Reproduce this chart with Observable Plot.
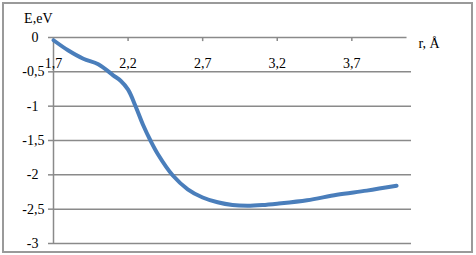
<!DOCTYPE html>
<html>
<head>
<meta charset="utf-8">
<script src="https://cdn.jsdelivr.net/npm/d3@7"></script>
<script src="https://cdn.jsdelivr.net/npm/@observablehq/plot@0.6"></script>
<style>
  html, body { margin: 0; padding: 0; background: #fff; font-family: "Liberation Serif", serif; }
  #wrap { position: relative; width: 476px; height: 255px; overflow: hidden; font-family: "Liberation Serif", serif; }
  #border { position: absolute; left: 2px; top: 2px; width: 471px; height: 251px; box-sizing: border-box; border: 2px solid #9a9a9a; pointer-events: none; }
</style>
</head>
<body>
<div id="wrap"><div id="border"></div></div>
<script>
const rValues = [1.7, 1.8, 1.9, 2.0, 2.1, 2.15, 2.2, 2.25, 2.3, 2.35, 2.4, 2.5, 2.6, 2.7, 2.8, 2.9, 3.0, 3.1, 3.2, 3.4, 3.6, 3.8, 4.0];
const eValues = [-0.04, -0.19, -0.31, -0.39, -0.55, -0.63, -0.76, -1.0, -1.27, -1.50, -1.70, -2.01, -2.21, -2.33, -2.40, -2.44, -2.45, -2.44, -2.42, -2.37, -2.29, -2.23, -2.16];
const xTicks = [1.7, 2.2, 2.7, 3.2, 3.7];
const yTicksInt = [0, -1, -2, -3];
const yTicksHalf = [-0.5, -1.5, -2.5];
const yTicks = [0, -0.5, -1, -1.5, -2, -2.5, -3];
const xLabel = "r, Å";
const yLabel = "E,eV";

const data = rValues.map((r, i) => ({r, e: eValues[i]}));
const fmt = d => String(d).replace(".", ",");
const grid = "#8a8a8a";
const serif = "Liberation Serif";

const chart = Plot.plot({
  width: 476,
  height: 255,
  marginLeft: 53,
  marginRight: 65,
  marginTop: 37,
  marginBottom: 12,
  style: {fontFamily: "Liberation Serif", fontSize: "14px", color: "#000", background: "transparent"},
  x: {domain: [1.7, 4.1], axis: null},
  y: {domain: [-3, 0], axis: null},
  marks: [
    Plot.ruleY(yTicks.filter(d => d !== 0), {y: d => d, stroke: grid, strokeWidth: 1.5}),
    Plot.axisY({ticks: yTicks, tickSize: 5, tickFormat: () => "", label: null, stroke: grid, strokeWidth: 1.5, strokeOpacity: 1}),
    Plot.ruleX([1.7], {x: d => d, y1: -3, y2: 0, stroke: grid, strokeWidth: 1.5}),
    Plot.ruleY([0], {y: d => d, x1: 1.7, x2: 4.07, stroke: grid, strokeWidth: 1.5}),
    Plot.ruleX(xTicks.slice(1), {x: d => d, y1: 0, y2: -0.06, stroke: grid, strokeWidth: 1.5}),
    Plot.text(xTicks, {x: d => d, y: 0, dy: 26, text: fmt, fill: "#000", fontFamily: serif, fontSize: 14}),
    Plot.text(yTicksInt, {x: 1.7, y: d => d, dx: -15, textAnchor: "end", text: fmt, fill: "#000", fontFamily: serif, fontSize: 14}),
    Plot.text(yTicksHalf, {x: 1.7, y: d => d, dx: -9, textAnchor: "end", text: fmt, fill: "#000", fontFamily: serif, fontSize: 14}),
    Plot.text([yLabel], {x: 1.7, y: 0, dy: -19, dx: -1, textAnchor: "end", text: d => d, fill: "#000", fontFamily: serif, fontSize: 14}),
    Plot.text([xLabel], {x: 4.1, y: 0, dx: 7, dy: 6, textAnchor: "start", text: d => d, fill: "#000", fontFamily: serif, fontSize: 14}),
    Plot.line(data, {x: "r", y: "e", stroke: "#4a7ebb", strokeWidth: 4, curve: "catmull-rom"})
  ]
});
chart.setAttribute("font-family", serif);
chart.querySelectorAll("text, g").forEach(t => { t.setAttribute("font-family", serif); t.style.fontFamily = serif; });
document.getElementById("wrap").appendChild(chart);
</script>
</body>
</html>
